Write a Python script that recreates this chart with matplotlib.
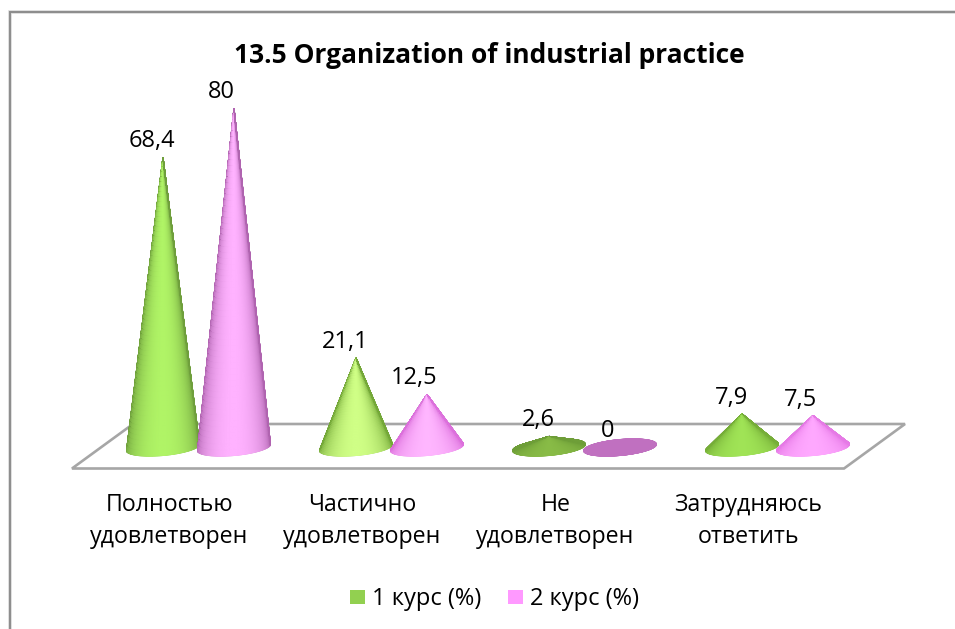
import numpy as np
import matplotlib
matplotlib.use("Agg")
import matplotlib.pyplot as plt
from matplotlib.colors import to_rgb
from matplotlib.patches import Polygon, Rectangle
from matplotlib.lines import Line2D
from matplotlib.transforms import Affine2D

categories = ["Полностью\nудовлетворен", "Частично\nудовлетворен", "Не\nудовлетворен", "Затрудняюсь\nответить"]
series_names = ["1 курс (%)", "2 курс (%)"]
course1 = [68.4, 21.1, 2.6, 7.9]
course2 = [80, 12.5, 0, 7.5]
value_labels1 = ["68,4", "21,1", "2,6", "7,9"]
value_labels2 = ["80", "12,5", "0", "7,5"]
title = "13.5 Organization of industrial practice"

# shading of each cone (centre, edge)
shade1 = [("#b0f466", "#6f9f3c"), ("#d0ff86", "#74a838"), ("#88bb46", "#6e9e38"), ("#a0e456", "#76ae38")]
shade2 = [("#ffb2ff", "#b064b0"), ("#ffb6ff", "#dc70dc"), ("#c070c0", "#c070c0"), ("#ffa8ff", "#e67ae6")]
legend_colors = ["#92d050", "#ff99ff"]

W, H = 955, 629
X0, XS = 198.5, 193.0   # px of category 0, px per category
Y0, YS = 447.5, 4.24    # px of value 0, px per unit
OFF = 35.5 / XS
FONT = "Open Sans"
FS_CAT, FS_VAL, FS_LEG, FS_TITLE = 16.7, 17.0, 17.0, 19.0

fig = plt.figure(figsize=(W / 100, H / 100), dpi=100)
ax = fig.add_axes([0, 0, 1, 1])
ax.set_xlim(-X0 / XS, (W - X0) / XS)
ax.set_ylim((Y0 - H) / YS, Y0 / YS)
ax.axis("off")

# pixel coordinates (origin top-left) for chart furniture
px = Affine2D().scale(1, -1).translate(0, H)

# outer frame
ax.add_line(Line2D([9.5, 9.5, W], [H, 12, 12], transform=px, color="#d8d8d8", lw=2.6, zorder=1, solid_joinstyle="miter"))
ax.add_line(Line2D([9.5, 9.5, W], [H, 12, 12], transform=px, color="#8c8c8c", lw=1.4, zorder=1, solid_joinstyle="miter"))

# floor
ax.add_patch(Polygon([(72, 468.5), (844, 468.5), (905, 424), (133, 424)], closed=True, transform=px,
                     fc="white", ec="#a6a6a6", lw=1.9, zorder=2, joinstyle="miter"))


def cone(xc, value, centre, edge, z):
    a = 36.5 / XS
    b = 8.0 / YS
    tilt = 3.2 / YS      # right rim higher than left rim
    h = value
    tmax = np.arccos(-b / h) if h > b else np.pi
    th = np.linspace(-tmax, tmax, 181)
    t = np.linspace(0.0, 1.0, 61)
    TH, T = np.meshgrid(th, t)
    xr = np.sin(TH)
    yr = -np.cos(TH)
    X = xc + T * a * xr
    Y = h * (1 - T) + T * (b * yr + tilt * xr)
    w = np.clip(np.abs(TH) / (np.pi / 2), 0, 1)
    k = np.cos(w * np.pi / 2) ** 1.0
    c0, c1 = np.array(to_rgb(centre)), np.array(to_rgb(edge))
    C = c1 + (c0 - c1) * k[..., None]
    ox = np.concatenate([X[-1], [xc]])
    oy = np.concatenate([Y[-1], [h]])
    ax.add_patch(Polygon(np.c_[ox, oy], closed=True, fc=edge, ec=edge, lw=0.7, alpha=0.5, zorder=z - 0.5))
    ax.pcolormesh(X, Y, C, shading="gouraud", zorder=z)


for i in range(len(categories)):
    cone(i - OFF, course1[i], *shade1[i], z=3 + i * 2)
    cone(i + OFF, course2[i], *shade2[i], z=4 + i * 2)

# value labels
for i in range(len(categories)):
    ax.text(i - OFF - 0.055, course1[i] + 3.8, value_labels1[i], ha="center", va="center", fontsize=FS_VAL, family=FONT, color="black", zorder=20)
    ax.text(i + OFF - 0.065, course2[i] + 3.8, value_labels2[i], ha="center", va="center", fontsize=FS_VAL, family=FONT, color="black", zorder=20)

# category labels
for i, c in enumerate(categories):
    l1, l2 = c.split("\n")
    xp = X0 + XS * i - 29
    ax.text(xp, 505, l1, transform=px, ha="center", va="center", fontsize=FS_CAT, family=FONT, color="black")
    ax.text(xp, 537, l2, transform=px, ha="center", va="center", fontsize=FS_CAT, family=FONT, color="black")

# title
ax.text(489.5, 55.5, title, transform=px, ha="center", va="center", fontsize=FS_TITLE, fontweight="bold", family=FONT, color="black")

# legend
ax.add_patch(Rectangle((350, 589.5), 14.5, 14.5, transform=px, fc=legend_colors[0], ec="none"))
ax.text(372, 599, series_names[0], transform=px, ha="left", va="center", fontsize=FS_LEG, family=FONT, color="black")
ax.add_patch(Rectangle((508, 589.5), 14.5, 14.5, transform=px, fc=legend_colors[1], ec="none"))
ax.text(530, 599, series_names[1], transform=px, ha="left", va="center", fontsize=FS_LEG, family=FONT, color="black")

fig.savefig("out.png", dpi=100, facecolor="white")
